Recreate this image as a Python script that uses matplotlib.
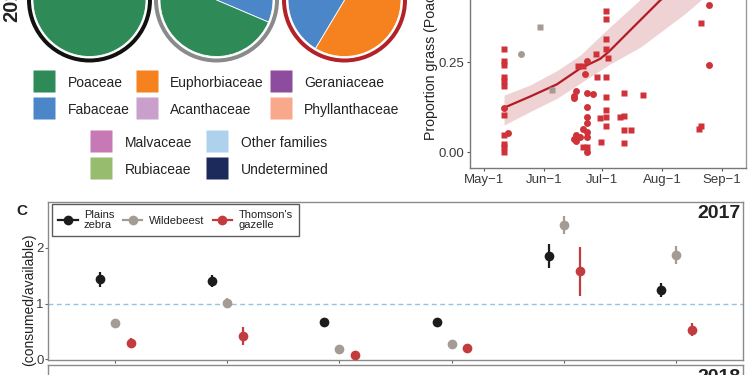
import matplotlib
matplotlib.use('Agg')
import matplotlib.pyplot as plt
from matplotlib.lines import Line2D
import numpy as np

plt.rcParams['font.family'] = ['Liberation Sans', 'DejaVu Sans']

W, H = 750, 375
fig = plt.figure(figsize=(7.5, 3.75), dpi=100)


def fx(px):
    return px / W


def fy(py):
    return 1 - py / H


# ---------------- data ----------------
families = ['Poaceae', 'Fabaceae', 'Euphorbiaceae', 'Acanthaceae', 'Geraniaceae',
            'Phyllanthaceae', 'Malvaceae', 'Rubiaceae', 'Other families', 'Undetermined']
family_colors = ['#2e8b57', '#4a86c8', '#f5821f', '#c9a0cc', '#8e4c9e',
                 '#f9a98b', '#c679b4', '#98bc6e', '#aed2ee', '#1b2a5a']

pie_zebra = [1.0, 0, 0, 0, 0, 0, 0, 0, 0, 0]
pie_wildebeest = [0.686, 0.294, 0, 0.02, 0, 0, 0, 0, 0, 0]
pie_gazelle = [0.17, 0.244, 0.536, 0.05, 0, 0, 0, 0, 0, 0]
ring_colors = ['#111111', '#8a8a8a', '#b22228']

# panel B: proportion grass vs date (day of year)
gaz_sq_day = [131.4] * 11 + [169.8, 172.4, 179.0, 179.2, 181.1, 181.4] + [184.2] * 9 + \
             [185.2, 172.1, 174.2, 193.2, 193.2, 193.2, 193.2, 191.5, 197.2, 203.2, 233.3, 232.9, 232.0]
gaz_sq_val = [0.285, 0.254, 0.242, 0.207, 0.196, 0.183, 0.102, 0.047, 0.022, 0.015, 0.001,
              0.239, 0.239, 0.271, 0.209, 0.095, 0.027,
              0.392, 0.369, 0.313, 0.286, 0.209, 0.154, 0.117, 0.096, 0.072,
              0.260, 0.015, 0.015, 0.165, 0.100, 0.061, 0.026, 0.097, 0.061, 0.158, 0.359, 0.072, 0.063]
gaz_ci_day = [131.4, 133.6, 174.5, 173.3, 168.5, 167.6, 167.5, 174.2, 177.6, 174.2, 174.2, 174.2,
              172.1, 174.2, 168.7, 170.7, 174.2, 167.3, 168.7, 174.2, 237.4, 237.4]
gaz_ci_val = [0.123, 0.054, 0.253, 0.216, 0.170, 0.156, 0.149, 0.163, 0.160, 0.124, 0.098, 0.081,
              0.063, 0.056, 0.047, 0.043, 0.041, 0.035, 0.031, 0.000, 0.408, 0.242]
wb_ci_day = [140.2]
wb_ci_val = [0.272]
wb_sq_day = [150.2, 156.2]
wb_sq_val = [0.346, 0.172]

trend_day = [131.4, 144.8, 158.7, 170.7, 181.1, 185.4, 198.4, 212.2, 225.0, 237.0]
trend_val = [0.123, 0.154, 0.188, 0.232, 0.259, 0.278, 0.348, 0.422, 0.470, 0.530]
band_day = [131.4, 144.8, 158.7, 170.7, 185.4, 202.0, 212.2, 225.0, 237.0]
band_lo = [0.075, 0.112, 0.149, 0.191, 0.242, 0.292, 0.333, 0.385, 0.440]
band_hi = [0.158, 0.186, 0.226, 0.269, 0.344, 0.425, 0.460, 0.530, 0.600]

date_ticks = [121, 152, 182, 213, 244]
date_labels = ['May\u22121', 'Jun\u22121', 'Jul\u22121', 'Aug\u22121', 'Sep\u22121']

# panel C: selectivity (consumed / available)
periods = [1, 2, 3, 4, 5, 6]
zebra = [1.436, 1.40, 0.664, 0.664, 1.855, 1.244]
zebra_lo = [1.293, 1.293, 0.62, 0.63, 1.645, 1.124]
zebra_hi = [1.573, 1.513, 0.71, 0.70, 2.07, 1.364]
wildebeest = [0.657, 1.016, 0.18, 0.275, 2.41, 1.873]
wildebeest_lo = [0.62, 0.921, 0.16, 0.25, 2.244, 1.71]
wildebeest_hi = [0.70, 1.095, 0.20, 0.30, 2.573, 2.04]
gazelle = [0.298, 0.418, 0.077, 0.197, 1.585, 0.526]
gazelle_lo = [0.197, 0.257, 0.06, 0.17, 1.136, 0.424]
gazelle_hi = [0.388, 0.585, 0.10, 0.23, 2.02, 0.646]
species = ['Plains\nzebra', 'Wildebeest', "Thomson's\ngazelle"]
species_colors = ['#1c1c1c', '#a39b94', '#c23b3e']

TXT = '#222222'
TICK = '#3a3a3a'

# ---------------- pies (pixel-coordinate axes) ----------------
axp = fig.add_axes([0, 0, 1, 1], zorder=0)
pie_centers_x = [89.5, 216.5, 344.5]
for vals, ring, cx in zip([pie_zebra, pie_wildebeest, pie_gazelle], ring_colors, pie_centers_x):
    v = [x for x in vals[::-1]]
    c = family_colors[::-1]
    keep = [i for i, x in enumerate(v) if x > 0]
    axp.pie([1], radius=62.5, center=(cx, H - 0), colors=[ring],
            wedgeprops=dict(width=4, edgecolor='none'))
    axp.pie([v[i] for i in keep], colors=[c[i] for i in keep], radius=56.5,
            center=(cx, H - 0), startangle=90, counterclock=False,
            wedgeprops=dict(edgecolor='white', linewidth=0.6))
axp.set_xlim(0, W)
axp.set_ylim(0, H)
axp.set_aspect('auto')
axp.axis('off')

fig.text(fx(11.5), fy(22), '2017', rotation=90, ha='center', va='bottom',
         fontweight='bold', fontsize=14.5, color=TXT)

# family legends
h1 = [Line2D([], [], ls='none', marker='s', ms=16, mfc=c, mec='none') for c in family_colors[:6]]
leg1 = fig.legend(handles=h1, labels=families[:6], ncol=3, loc='upper left',
                  bbox_to_anchor=(fx(33), fy(74)), frameon=False, fontsize=10,
                  handlelength=1.65, handleheight=1.6, handletextpad=0.85,
                  columnspacing=0.4, labelspacing=0.65, borderpad=0, borderaxespad=0)
h2 = [Line2D([], [], ls='none', marker='s', ms=16, mfc=c, mec='none') for c in family_colors[6:]]
leg2 = fig.legend(handles=h2, labels=families[6:], ncol=2, loc='upper left',
                  bbox_to_anchor=(fx(90), fy(134)), frameon=False, fontsize=10,
                  handlelength=1.65, handleheight=1.6, handletextpad=0.85,
                  columnspacing=1.0, labelspacing=0.65, borderpad=0, borderaxespad=0)
for lg in (leg1, leg2):
    for t in lg.get_texts():
        t.set_color(TXT)

# ---------------- panel B: scatter ----------------
bL, bR, bB, bT = 470, 746, 168, -64
axb = fig.add_axes([fx(bL), fy(bB), (bR - bL) / W, (bB - bT) / H], zorder=2)
axb.fill_between(band_day, band_lo, band_hi, color='#b22228', alpha=0.2, linewidth=0)
axb.plot(trend_day, trend_val, color='#b31b24', lw=1.6, zorder=3)
axb.plot(gaz_sq_day, gaz_sq_val, ls='none', marker='s', ms=4.2, color='#cf3339', mec='none', zorder=4)
axb.plot(gaz_ci_day, gaz_ci_val, ls='none', marker='o', ms=5, color='#cf3339', mec='none', zorder=4)
axb.plot(wb_sq_day, wb_sq_val, ls='none', marker='s', ms=4.2, color='#a39b94', mec='none', zorder=4)
axb.plot(wb_ci_day, wb_ci_val, ls='none', marker='o', ms=5, color='#a39b94', mec='none', zorder=4)
axb.set_xlim(113.8, 256.4)
axb.set_ylim(-0.0444, 0.6)
axb.set_xticks(date_ticks)
axb.set_xticklabels(date_labels)
axb.set_yticks([0, 0.25, 0.5])
axb.set_yticklabels(['0.00', '0.25', '0.50'])
axb.tick_params(axis='both', length=2.5, width=0.8, color='#555555', labelsize=9.5,
                labelcolor=TICK, pad=1.5)
for s in axb.spines.values():
    s.set_color('#999999')
    s.set_linewidth(1.0)
axb.spines['left'].set_color('#777777')
axb.spines['bottom'].set_color('#777777')
fig.text(fx(431.5), fy(140), 'Proportion grass (Poaceae)', rotation=90, ha='center',
         va='bottom', fontsize=10.2, color=TXT)

# ---------------- panel C: selectivity ----------------
cL, cR, cT, cB = 48, 743, 202, 360
axc = fig.add_axes([fx(cL), fy(cB), (cR - cL) / W, (cB - cT) / H], zorder=2)
offsets = [-0.134, 0.0, 0.14]
series = [(zebra, zebra_lo, zebra_hi), (wildebeest, wildebeest_lo, wildebeest_hi),
          (gazelle, gazelle_lo, gazelle_hi)]
axc.axhline(1, color='#8fc3e8', lw=1.0, ls=(0, (3.5, 2.5)), zorder=1)
for (y, lo, hi), col, off in zip(series, species_colors, offsets):
    y = np.array(y)
    x = np.array(periods) + off
    axc.errorbar(x, y, yerr=[y - np.array(lo), np.array(hi) - y], fmt='o', ms=7,
                 color=col, mec='none', elinewidth=1.6, capsize=0, zorder=3)
axc.set_xlim(0.403, 6.597)
axc.set_ylim(-0.0126, 2.824)
axc.set_xticks(periods)
axc.set_xticklabels([])
axc.set_yticks([0, 1, 2])
axc.tick_params(axis='both', length=2, width=0.8, color='#666666', labelsize=9.5,
                labelcolor=TICK, pad=1)
for s in axc.spines.values():
    s.set_color('#8a8a8a')
    s.set_linewidth(1.0)
axc.text(0.996, 1 - 12 / (cB - cT), '2017', transform=axc.transAxes, ha='right',
         va='center', fontsize=14, fontweight='bold', color=TXT)
lh = [Line2D([], [], color=c, marker='o', ms=7, mec='none', lw=1.6) for c in species_colors]
legc = axc.legend(handles=lh, labels=species, ncol=3, loc='upper left',
                  bbox_to_anchor=(fx(52), fy(204)), bbox_transform=fig.transFigure,
                  fontsize=8, frameon=True, fancybox=False, edgecolor='#333333',
                  handlelength=1.75, handletextpad=0.55, columnspacing=0.8,
                  borderpad=0.55, borderaxespad=0)
legc.get_frame().set_linewidth(1.0)
for t in legc.get_texts():
    t.set_linespacing(0.95)
    t.set_color(TXT)

fig.text(fx(22), fy(211), 'C', ha='center', va='center', fontsize=11, fontweight='bold',
         color=TXT)
fig.text(fx(29.5), fy(233), '(consumed/available)', rotation=90, ha='center', va='top',
         fontsize=10, color=TXT)

# second year panel (mostly below the visible area)
axd = fig.add_axes([fx(cL), fy(523), (cR - cL) / W, (523 - 365) / H], zorder=2)
axd.set_xlim(0.403, 6.597)
axd.set_ylim(-0.0126, 2.824)
axd.set_xticks([])
axd.set_yticks([])
for s in axd.spines.values():
    s.set_color('#8a8a8a')
    s.set_linewidth(1.0)
axd.text(0.996, 1 - 12 / (cB - cT), '2018', transform=axd.transAxes, ha='right',
         va='center', fontsize=14, fontweight='bold', color=TXT)

fig.savefig('out.png', dpi=100)
